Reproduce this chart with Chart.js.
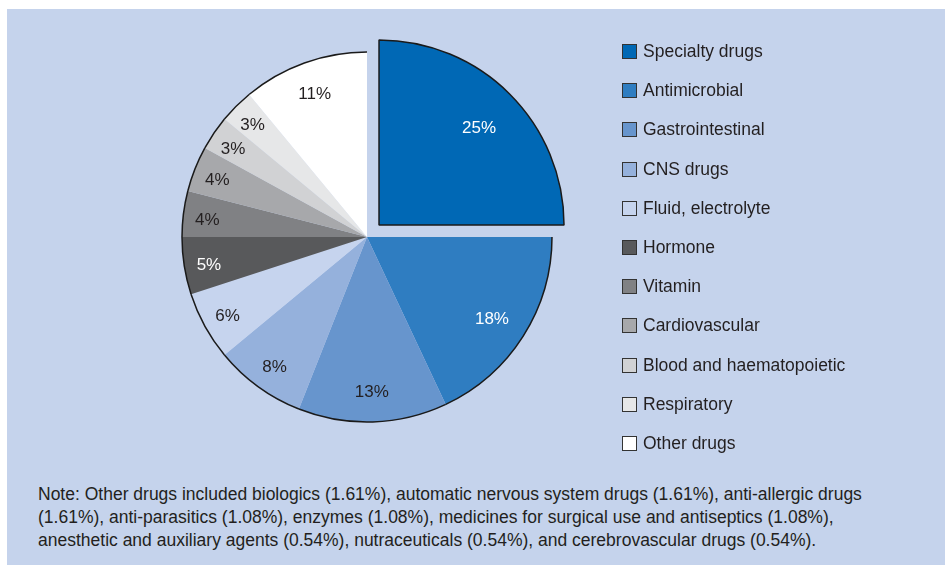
<!DOCTYPE html>
<html>
<head>
<meta charset="utf-8">
<script src="https://cdn.jsdelivr.net/npm/chart.js@4.4.1/dist/chart.umd.min.js"></script>
<style>
  body { margin: 0; background: #ffffff; width: 945px; height: 565px; overflow: hidden; position: relative; font-family: "Liberation Sans", Arial, sans-serif; }
  #panel { position: absolute; left: 7px; top: 9px; width: 938px; height: 556px; background: #c5d3ec; }
  #pie { position: absolute; left: 0; top: 0; }
  #legend { position: absolute; left: 622px; top: 41px; margin: 0; padding: 0; list-style: none; }
  #legend li { height: 39.2px; display: flex; align-items: flex-start; font-size: 17.5px; color: #231f20; }
  #legend .box { width: 13px; height: 13px; border: 1.5px solid #333; margin: 3px 6px 0 0; flex: none; }
  #legend span.txt { line-height: 20px; }
  #note { position: absolute; left: 38px; top: 483px; font-size: 17.5px; line-height: 23px; color: #231f20; white-space: nowrap; }
</style>
</head>
<body>
<div id="panel"></div>
<canvas id="pie" width="734" height="474"></canvas>
<ul id="legend"></ul>
<div id="note">Note: Other drugs included biologics (1.61%), automatic nervous system drugs (1.61%), anti-allergic drugs<br>(1.61%), anti-parasitics (1.08%), enzymes (1.08%), medicines for surgical use and antiseptics (1.08%),<br>anesthetic and auxiliary agents (0.54%), nutraceuticals (0.54%), and cerebrovascular drugs (0.54%).</div>
<script>
const categories = ['Specialty drugs', 'Antimicrobial', 'Gastrointestinal', 'CNS drugs', 'Fluid, electrolyte',
    'Hormone', 'Vitamin', 'Cardiovascular', 'Blood and haematopoietic', 'Respiratory', 'Other drugs'];
const shares = [25, 18, 13, 8, 6, 5, 4, 4, 3, 3, 11];
const sliceColors = ['#0068b5', '#2f7dc1', '#6795cd', '#95b1dc', '#c6d4ee',
    '#58595b', '#808184', '#a7a8ab', '#d1d2d4', '#e6e7e8', '#ffffff'];
const labelColors = ['#ffffff', '#ffffff', '#231f20', '#231f20', '#231f20',
    '#ffffff', '#231f20', '#231f20', '#231f20', '#231f20', '#231f20'];

// html legend built from the same arrays
const legendEl = document.getElementById('legend');
categories.forEach((name, i) => {
    const li = document.createElement('li');
    const box = document.createElement('span');
    box.className = 'box';
    box.style.background = sliceColors[i];
    const txt = document.createElement('span');
    txt.className = 'txt';
    txt.textContent = name;
    li.appendChild(box);
    li.appendChild(txt);
    legendEl.appendChild(li);
});

// outer rim outline for the slices that are not pulled out
const rimPlugin = {
    id: 'rim',
    afterDatasetsDraw(chart) {
        const ctx = chart.ctx;
        const arcs = chart.getDatasetMeta(0).data;
        ctx.save();
        ctx.strokeStyle = '#1a1a1a';
        ctx.lineWidth = 1.5;
        arcs.forEach((arc) => {
            if (arc.options.offset) return;
            const p = arc.getProps(['x', 'y', 'startAngle', 'endAngle', 'outerRadius']);
            ctx.beginPath();
            ctx.arc(p.x, p.y, p.outerRadius, p.startAngle, p.endAngle);
            ctx.stroke();
        });
        ctx.restore();
    }
};

// percentage labels inside the slices
const valuePlugin = {
    id: 'values',
    afterDatasetsDraw(chart) {
        const ctx = chart.ctx;
        const arcs = chart.getDatasetMeta(0).data;
        ctx.save();
        ctx.font = '17px "Liberation Sans", Arial, sans-serif';
        ctx.textAlign = 'center';
        ctx.textBaseline = 'middle';
        arcs.forEach((arc, i) => {
            const p = arc.getProps(['x', 'y', 'startAngle', 'endAngle', 'outerRadius']);
            const mid = (p.startAngle + p.endAngle) / 2;
            const frac = 0.89 - 0.5 * shares[i] / 100;
            // chart.js moves an offset arc by offset / 4
            const r = p.outerRadius * frac + (arc.options.offset || 0) / 4;
            ctx.fillStyle = labelColors[i];
            ctx.fillText(shares[i] + '%', p.x + Math.cos(mid) * r, p.y + Math.sin(mid) * r + 3);
        });
        ctx.restore();
    }
};

new Chart(document.getElementById('pie'), {
    type: 'pie',
    data: {
        labels: categories,
        datasets: [{
            data: shares,
            backgroundColor: sliceColors,
            borderColor: '#1a1a1a',
            borderWidth: shares.map((v, i) => i === 0 ? 1.5 : 0),
            offset: shares.map((v, i) => i === 0 ? 68 : 0)
        }]
    },
    options: {
        responsive: false,
        devicePixelRatio: 1,
        animation: false,
        events: [],
        radius: 185,
        layout: { padding: 0 },
        plugins: {
            legend: { display: false },
            tooltip: { enabled: false }
        }
    },
    plugins: [rimPlugin, valuePlugin]
});
</script>
</body>
</html>
